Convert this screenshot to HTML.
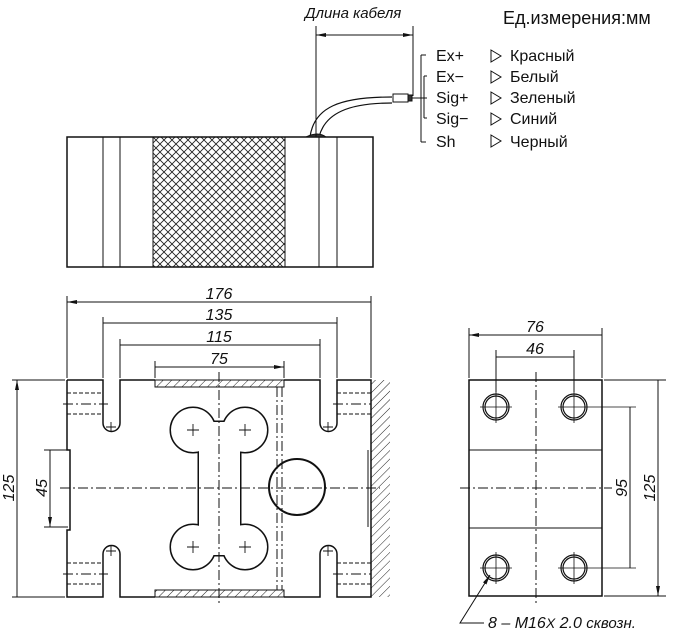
<!DOCTYPE html>
<html><head><meta charset="utf-8"><style>body{margin:0;background:#fff}svg{display:block}text{font-family:"Liberation Sans",sans-serif;fill:#111}</style></head><body>
<svg width="688" height="632" viewBox="0 0 688 632" xmlns="http://www.w3.org/2000/svg">
<defs>
<pattern id="x" width="8" height="8" patternUnits="userSpaceOnUse"><path d="M0 0L8 8M8 0L0 8" stroke="#222" stroke-width="0.9"/></pattern>
<pattern id="h" width="6" height="6" patternUnits="userSpaceOnUse" patternTransform="rotate(45)"><path d="M0 0V6" stroke="#222" stroke-width="1"/></pattern>
<marker id="a" viewBox="0 0 10 4" refX="10" refY="2" markerWidth="10" markerHeight="4" orient="auto-start-reverse" markerUnits="userSpaceOnUse"><path d="M0 0L10 2L0 4z" fill="#111"/></marker>
</defs>
<g stroke="#111" fill="none" stroke-width="1">
<!-- top view -->
<rect x="153" y="137" width="132" height="130" fill="url(#x)" stroke="none"/>
<rect x="67" y="137" width="306" height="130" stroke-width="1.5"/>
<path d="M103 137V267M120 137V267M153 137V267M285 137V267M319 137V267M337 137V267"/>
<path d="M310 137c4 -30 30 -40 82 -40M319 137c6 -24 30 -34 73 -34" stroke-width="1.2"/>
<path d="M306 137q12 -6 20 0z" fill="#333"/>
<rect x="393" y="94" width="15" height="8"/>
<rect x="408" y="95" width="4" height="6" fill="#333"/>
<path d="M316 137V26M413 96V26"/>
<path d="M316 35H413" marker-start="url(#a)" marker-end="url(#a)"/>
<path d="M421 55V142M421 55h5M421 142h5M424 76V118M424 76h3M424 118h3M412 98h15"/>
<path d="M491 50l10 6l-10 6zM491 71l10 6l-10 6zM491 92l10 6l-10 6zM491 113l10 6l-10 6zM491 135l10 6l-10 6z"/>
<!-- front view -->
<rect x="371" y="380" width="19" height="217" fill="url(#h)" stroke="none"/>
<rect x="155" y="380" width="129" height="7" fill="url(#h)"/>
<rect x="155" y="590" width="129" height="7" fill="url(#h)"/>
<path stroke-width="1.5" d="M67 380H103V423a8.5 8.5 0 0 0 17 0V380H155M284 380H320V423a8.5 8.5 0 0 0 17 0V380H371V597H337V554a8.5 8.5 0 0 0 -17 0V597H284M155 597H120V554a8.5 8.5 0 0 0 -17 0V597H67V530H70V450H67V380"/>
<path d="M368 450V527"/>
<!-- bone: stroked union -->
<g stroke-width="3">
<circle cx="193" cy="430" r="22"/><circle cx="245" cy="430" r="22"/><circle cx="193" cy="547" r="22"/><circle cx="245" cy="547" r="22"/>
<rect x="199" y="440" width="41" height="97"/><rect x="205" y="422" width="28" height="20"/><rect x="205" y="535" width="28" height="20"/>
</g>
<g fill="#fff" stroke="none">
<circle cx="193" cy="430" r="22"/><circle cx="245" cy="430" r="22"/><circle cx="193" cy="547" r="22"/><circle cx="245" cy="547" r="22"/>
<rect x="199" y="440" width="41" height="97"/><rect x="205" y="422" width="28" height="20"/><rect x="205" y="535" width="28" height="20"/>
</g>
<circle cx="297" cy="487" r="28" stroke-width="2"/>
<g stroke-width="0.9"><path d="M187 430h12M193 424v12M239 430h12M245 424v12M187 547h12M193 541v12M239 547h12M245 541v12M106 427h10M111 422v10M323 427h10M328 422v10M106 551h10M111 546v10M323 551h10M328 546v10"/></g>
<path stroke-dasharray="10 3 2 3" d="M219 372V605M60 488H380M277 387V590M282 387V590"/>
<path stroke-dasharray="4 2" d="M67 393H103M67 414H103M337 393H371M337 414H371M67 563H103M67 584H103M337 563H371M337 584H371"/>
<path stroke-dasharray="10 3 2 3" d="M63 404H108M333 404H371M63 574H108M333 574H371"/>
<!-- front dims -->
<path d="M67 378V296M371 378V296M103 378V317M337 378V317M120 378V339M320 378V339M155 378V361M284 378V361"/>
<path d="M67 302H371M103 323H337M120 345H320M155 367H284" marker-start="url(#a)" marker-end="url(#a)"/>
<path d="M65 380H12M65 597H12M68 450H44M68 527H44"/>
<path d="M17 380V597M50 450V527" marker-start="url(#a)" marker-end="url(#a)"/>
<!-- side view -->
<rect x="469" y="380" width="133" height="216" stroke-width="1.5"/>
<path d="M469 450H602M469 528H602"/>
<g stroke-width="1.2"><circle cx="496" cy="407" r="13"/><circle cx="496" cy="407" r="11"/><circle cx="574" cy="407" r="13"/><circle cx="574" cy="407" r="11"/><circle cx="496" cy="568" r="13"/><circle cx="496" cy="568" r="11"/><circle cx="574" cy="568" r="13"/><circle cx="574" cy="568" r="11"/></g>
<path stroke-width="0.8" d="M480 407H512M496 391V423M558 407H636M574 391V423M480 568H512M496 552V584M558 568H636M574 552V584"/>
<path stroke-dasharray="10 3 2 3" d="M536 372V605M460 488H612"/>
<path d="M469 378V328M602 378V328M496 392V350M574 392V350M604 380H666M604 596H666"/>
<path d="M469 335H602M496 357H574M630 407V568M658 380V596" marker-start="url(#a)" marker-end="url(#a)"/>
<path d="M490 575L460 623H484" marker-start="url(#a)"/>
</g>
<text x="305" y="18" font-size="15" font-style="italic">Длина кабеля</text>
<text x="503" y="24" font-size="18">Ед.измерения:мм</text>
<g font-size="16"><text x="436" y="61">Ex+</text><text x="436" y="82">Ex−</text><text x="436" y="103">Sig+</text><text x="436" y="124">Sig−</text><text x="436" y="147">Sh</text>
<text x="510" y="61">Красный</text><text x="510" y="82">Белый</text><text x="510" y="103">Зеленый</text><text x="510" y="124">Синий</text><text x="510" y="147">Черный</text></g>
<g font-size="16" font-style="italic" text-anchor="middle"><text x="219" y="299">176</text><text x="219" y="320">135</text><text x="219" y="342">115</text><text x="219" y="364">75</text><text x="535" y="332">76</text><text x="535" y="354">46</text>
<text transform="translate(14 488) rotate(-90)">125</text><text transform="translate(47 488) rotate(-90)">45</text><text transform="translate(627 488) rotate(-90)">95</text><text transform="translate(655 488) rotate(-90)">125</text></g>
<text x="488" y="628" font-size="16" font-style="italic">8 – M16<tspan font-size="14">X</tspan> 2.0 <tspan font-size="15">сквозн.</tspan></text>
</svg>
</body></html>
